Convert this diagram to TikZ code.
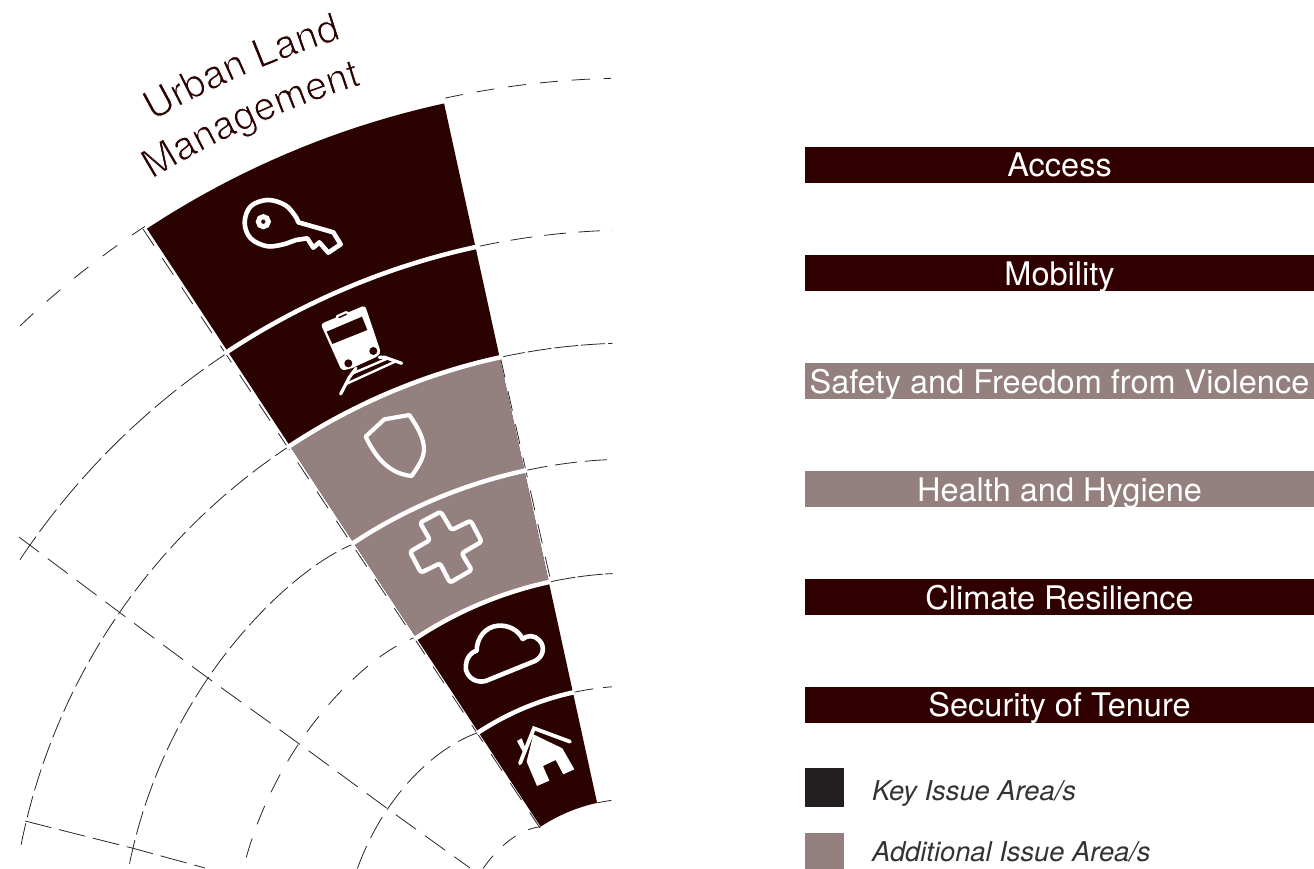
\documentclass[tikz,border=0pt]{standalone}
\usepackage{fontspec}
\usetikzlibrary{decorations.text}
\setmainfont{TeX Gyre Heros}
\definecolor{wedgedark}{HTML}{2A0300}
\definecolor{bardark}{HTML}{300000}
\definecolor{keygrey}{HTML}{231F20}
\definecolor{addgrey}{HTML}{93807F}
\newcommand{\lightfmt}{\fontsize{39.5}{41}\selectfont\color{wedgedark}\special{pdf:code 2 Tr 0.85 w 1 1 1 RG}}
\tikzset{
  dashline/.style={draw=black!85,line width=0.8pt},
  divider/.style={draw=white,line width=4.5pt},
  iconline/.style={draw=white,line width=4.6pt,line join=round,line cap=round},
  bar/.style={minimum width=509pt,minimum height=36pt,inner sep=0pt,text=white,text height=28pt,text depth=4pt,font=\fontsize{32.5}{34}\selectfont},
  swatch/.style={minimum width=39pt,inner sep=0pt},
  legendtext/.style={anchor=base west,inner sep=0pt,text=black!80,font=\fontsize{27.3}{30}\itshape\selectfont},
  zoomed/.style={x=0.3333pt,y=-0.3333pt}
}
\begin{document}
\begin{tikzpicture}[x=1pt,y=-1pt]
\useasboundingbox (0,0) rectangle (1314,869);

% dashed grid: radial lines
\draw[dashline,dash pattern=on 25pt off 11pt] plot[smooth] coordinates {(19,537)(119,612)(208,678)(298,743)(388,809)(470,868)};
\draw[dashline,dash pattern=on 27pt off 8pt] (25,821) -- (132,848) -- (205,868);
\draw[dashline,dash pattern=on 20pt off 15pt] (143,229) -- (540,828);
\draw[dashline,dash pattern=on 20pt off 14pt] (500.5,358) -- (550.5,580);

% dashed grid: arcs
\begin{scope}[shift={(633,967)}]
\draw[dashline,dash pattern=on 18pt off 18pt] plot[domain=-133.7:-123.4,samples=20] (\x:887);
\draw[dashline,dash pattern=on 28pt off 6pt] plot[domain=-146.4:-123.4,samples=40] (\x:736);
\draw[dashline,dash pattern=on 22pt off 6pt] plot[domain=-168.7:-123.4,samples=60] (\x:624);
\draw[dashline,dash pattern=on 24pt off 6pt] plot[domain=-168.4:-123.4,samples=60] (\x:{514-7*exp((\x+123.4)/4)});
\draw[dashline,dash pattern=on 20pt off 15pt] plot[domain=-164.2:-123.4,samples=60] (\x:{402-7*exp((\x+123.4)/4)});
\draw[dashline,dash pattern=on 24pt off 9pt] plot[domain=-160.3:-123.4,samples=60] (\x:{293-12*exp((\x+123.4)/10)});
\draw[dashline,dash pattern=on 16pt off 14pt] plot[domain=-146.6:-123.4,samples=40] (\x:{180-12*exp((\x+123.4)/8)});
\draw[dashline,dash pattern=on 18pt off 14pt] plot[domain=-102.2:-91.4,samples=20] (\x:889);
\draw[dashline,dash pattern=on 22pt off 12pt] plot[domain=-102.2:-91.6,samples=20] (\x:737);
\draw[dashline,dash pattern=on 24pt off 3pt] plot[domain=-102.2:-91.9,samples=20] (\x:624);
\draw[dashline,dash pattern=on 22pt off 8pt] plot[domain=-102.2:-92.4,samples=20] (\x:508);
\draw[dashline,dash pattern=on 26pt off 2pt] plot[domain=-102.2:-93,samples=20] (\x:394);
\draw[dashline,dash pattern=on 20pt off 10pt] plot[domain=-102.2:-94.3,samples=20] (\x:281);
\draw[dashline,dash pattern=on 14pt off 6pt] plot[domain=-102.2:-97.2,samples=10] (\x:168);
\end{scope}

% wedge
\begin{scope}[shift={(633,967)}]
\fill[wedgedark] plot[domain=-102.34:-123.36,samples=60] (\x:884) -- plot[domain=-123.36:-102.34,samples=30] (\x:168) -- cycle;
\fill[addgrey] plot[domain=-102.34:-123.36,samples=40] (\x:624) -- plot[domain=-123.36:-102.34,samples=30] (\x:394) -- cycle;
\foreach \r in {737,624,508,394,281}
  \draw[divider] plot[domain=-102.0:-123.7,samples=50] (\x:\r);
\end{scope}

% key icon
\begin{scope}[shift={(230,185)},zoomed]
\draw[iconline] plot[smooth,tension=.6] coordinates {(168,176)(113,184)(62,160)(44,113)(62,64)(113,45)(165,60)(195,92)(205,112)}
  -- (310,142) -- (332,178) -- (295,203) -- (268,172) -- (250,188) -- (232,160) -- (198,165) -- cycle;
\draw[draw=white,line width=5pt] (100,110) circle[radius=15];
\end{scope}

% train icon
\begin{scope}[shift={(310,300)},zoomed]
\fill[white,rounded corners=3pt] (32,72) -- (165,16) -- (212,155) -- (205,168) -- (125,205) -- (95,212) -- cycle;
\fill[wedgedark] (50,95) -- (156,50) -- (172,90) -- (67,132) -- cycle;
\fill[wedgedark] (115,190) circle[radius=12];
\fill[wedgedark] (190,153) circle[radius=12];
\draw[draw=white,line width=2.2pt,fill=wedgedark,rounded corners=1.5pt] (78,50) -- (112,35) -- (118,45) -- (85,60) -- cycle;
\draw[white,line width=3.2pt,line cap=round] (92,282) -- (118,232) -- (138,205);
\draw[white,line width=3.2pt,line cap=round] (275,190) -- (225,172) -- (208,172);
\draw[white,line width=2.4pt] (124,222) -- (236,174);
\draw[white,line width=2.4pt] (108,252) -- (255,185);
\end{scope}

% shield and cross icons
\begin{scope}[shift={(350,400)},zoomed]
\draw[iconline,line width=4.2pt] (47,110) -- (103,58) -- (178,45) .. controls (205,85) and (222,115) .. (222,150) .. controls (220,180) and (200,205) .. (185,228) .. controls (130,222) and (85,190) .. cycle;
\draw[iconline,line width=4.4pt,rounded corners=2.5pt] (210,368) -- (272,335) -- (305,390) -- (362,362) -- (395,425) -- (335,460) -- (365,510) -- (300,548) -- (270,490) -- (213,518) -- (180,455) -- (240,420) -- cycle;
\end{scope}

% cloud and house icons
\begin{scope}[shift={(455,615)},zoomed]
\draw[iconline] (92,198) -- (240,138) .. controls (265,125) and (272,95) .. (252,75) .. controls (238,60) and (218,60) .. (203,72)
  .. controls (190,45) and (160,30) .. (130,32) .. controls (90,35) and (65,70) .. (65,107)
  .. controls (40,115) and (30,140) .. (33,165) .. controls (40,190) and (65,205) .. cycle;
\draw[white,line width=3.8pt,line cap=round,line join=miter] (195,445) -- (237,340) -- (345,380);
\fill[white] (186,378) -- (200,370) -- (210,396) -- (203,410) -- cycle;
\fill[white] (235,358) -- (322,400) -- (358,463) -- (325,478) -- (302,435) -- (264,453) -- (283,497) -- (246,513) -- (215,440) -- cycle;
\end{scope}

% title
\begin{scope}[shift={(633,967)}]
\path[decorate,decoration={text along path,text align=center,text={|\lightfmt|Urban Land}}]
  plot[domain=-126:-101,samples=50] (\x:973);
\path[decorate,decoration={text along path,text align=center,text={|\lightfmt|Management}}]
  plot[domain=-127.5:-101,samples=50] (\x:923);
\end{scope}

% legend bars
\node[bar,fill=bardark] (access) at (1059.5,165) {Access};
\node[bar,fill=bardark] (mobility) at (1059.5,273) {Mobility};
\node[bar,fill=addgrey] (safety) at (1059.5,381) {Safety and Freedom from Violence};
\node[bar,fill=addgrey] (health) at (1059.5,489) {Health and Hygiene};
\node[bar,fill=bardark] (climate) at (1059.5,597) {Climate Resilience};
\node[bar,fill=bardark] (tenure) at (1059.5,704.5) {Security of Tenure};

% key
\node[swatch,fill=keygrey,minimum height=39pt] (keysw) at (824.5,787.5) {};
\node[swatch,fill=addgrey,minimum height=36pt] (addsw) at (824.5,851) {};
\node[legendtext] (keytx) at (872,800) {Key Issue Area/s};
\node[legendtext] (addtx) at (872,861) {Additional Issue Area/s};
\end{tikzpicture}
\end{document}
